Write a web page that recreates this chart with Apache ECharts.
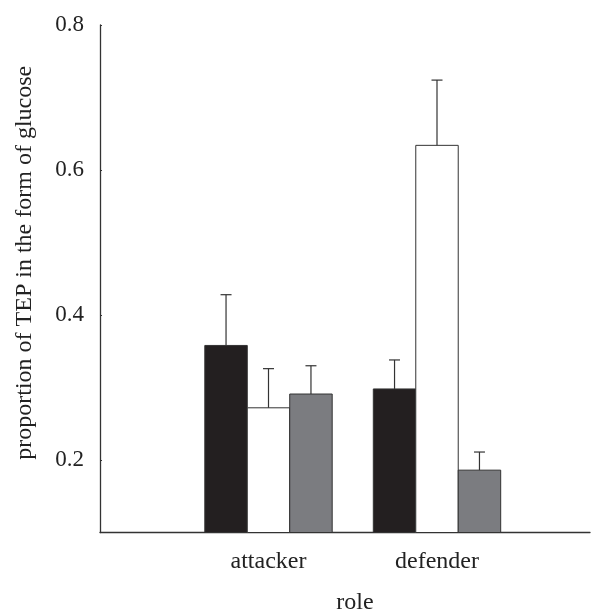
<!DOCTYPE html>
<html lang="en">
<head>
    <meta charset="UTF-8">
    <title>TEP glucose proportion</title>
    <script src="https://cdn.jsdelivr.net/npm/echarts@6/dist/echarts.min.js"></script>
    <style>
        html, body { margin: 0; padding: 0; background: #fff; }
        #chart { width: 595px; height: 614px; }
    </style>
</head>
<body>
    <div id="chart"></div>
    <script>
        // categories and their positions on the x scale
        let roles = ['attacker', 'defender'];
        let rolePos = [1, 2];

        // bar means and upper error
        let blackMeans = [0.358, 0.298];
        let blackErr   = [0.070, 0.040];
        let whiteMeans = [0.272, 0.634];
        let whiteErr   = [0.054, 0.090];
        let greyMeans  = [0.291, 0.186];
        let greyErr    = [0.039, 0.025];

        let yTicks = [0.2, 0.4, 0.6, 0.8];

        let font = 'Liberation Serif';
        let ink = '#333';

        function toData(means, errs) {
            return means.map(function(m, i) {
                return [rolePos[i], m, errs[i]];
            });
        }

        // slot: -1 left, 0 middle, 1 right
        function makeBars(name, means, errs, slot, fill) {
            return {
                name: name,
                type: 'custom',
                data: toData(means, errs),
                renderItem: function(params, api) {
                    let x = api.value(0), m = api.value(1), e = api.value(2);
                    let bw = api.size([1, 0])[0] * 0.252;
                    let top = api.coord([x, m]);
                    let base = api.coord([x, 0.1]);
                    let errTop = api.coord([x, m + e]);
                    let cx = top[0] + slot * bw;
                    return {
                        type: 'group',
                        children: [{
                            type: 'rect',
                            shape: { x: cx - bw / 2, y: top[1], width: bw, height: base[1] - top[1] },
                            style: { fill: fill, stroke: ink, lineWidth: 1 }
                        }, {
                            type: 'line',
                            shape: { x1: cx, y1: top[1], x2: cx, y2: errTop[1] },
                            style: { stroke: ink, lineWidth: 1.2 }
                        }, {
                            type: 'line',
                            shape: { x1: cx - 5.5, y1: errTop[1], x2: cx + 5.5, y2: errTop[1] },
                            style: { stroke: ink, lineWidth: 1.2 }
                        }]
                    };
                }
            };
        }

        let myChart = echarts.init(document.getElementById('chart'));

        let chartOption = {
            animation: false,
            grid: { left: 100, right: 5, top: 25, bottom: 81.5, outerBoundsMode: 'none', containLabel: false },
            xAxis: {
                type: 'value',
                min: 0,
                max: 2.908,
                name: 'role',
                nameLocation: 'middle',
                nameGap: 58,
                nameTextStyle: { fontFamily: font, fontSize: 24, color: '#222', padding: [0, 0, 0, 20] },
                splitLine: { show: false },
                axisLine: { lineStyle: { color: ink, width: 1.3 } },
                axisTick: { inside: true, length: 2, customValues: rolePos, lineStyle: { color: ink } },
                axisLabel: {
                    customValues: rolePos,
                    margin: 17,
                    fontFamily: font,
                    fontSize: 24,
                    color: '#222',
                    formatter: function(v) {
                        let i = rolePos.indexOf(v);
                        return i >= 0 ? roles[i] : '';
                    }
                }
            },
            yAxis: {
                type: 'value',
                min: 0.1,
                max: 0.8,
                name: 'proportion of TEP in the form of glucose',
                nameLocation: 'middle',
                nameGap: 63,
                nameTextStyle: { fontFamily: font, fontSize: 24, color: '#222', padding: [0, 0, 0, 32] },
                splitLine: { show: false },
                axisLine: { show: true, lineStyle: { color: ink, width: 1.3 } },
                axisTick: { show: true, inside: true, length: 2, customValues: yTicks, lineStyle: { color: ink } },
                axisLabel: {
                    customValues: yTicks,
                    margin: 16,
                    fontFamily: font,
                    fontSize: 23,
                    color: '#222',
                    formatter: function(v) { return v.toFixed(1); }
                }
            },
            series: [
                makeBars('black', blackMeans, blackErr, -1, '#231f20'),
                makeBars('white', whiteMeans, whiteErr, 0, '#ffffff'),
                makeBars('grey', greyMeans, greyErr, 1, '#7b7c80')
            ]
        };

        myChart.setOption(chartOption);
    </script>
</body>
</html>
